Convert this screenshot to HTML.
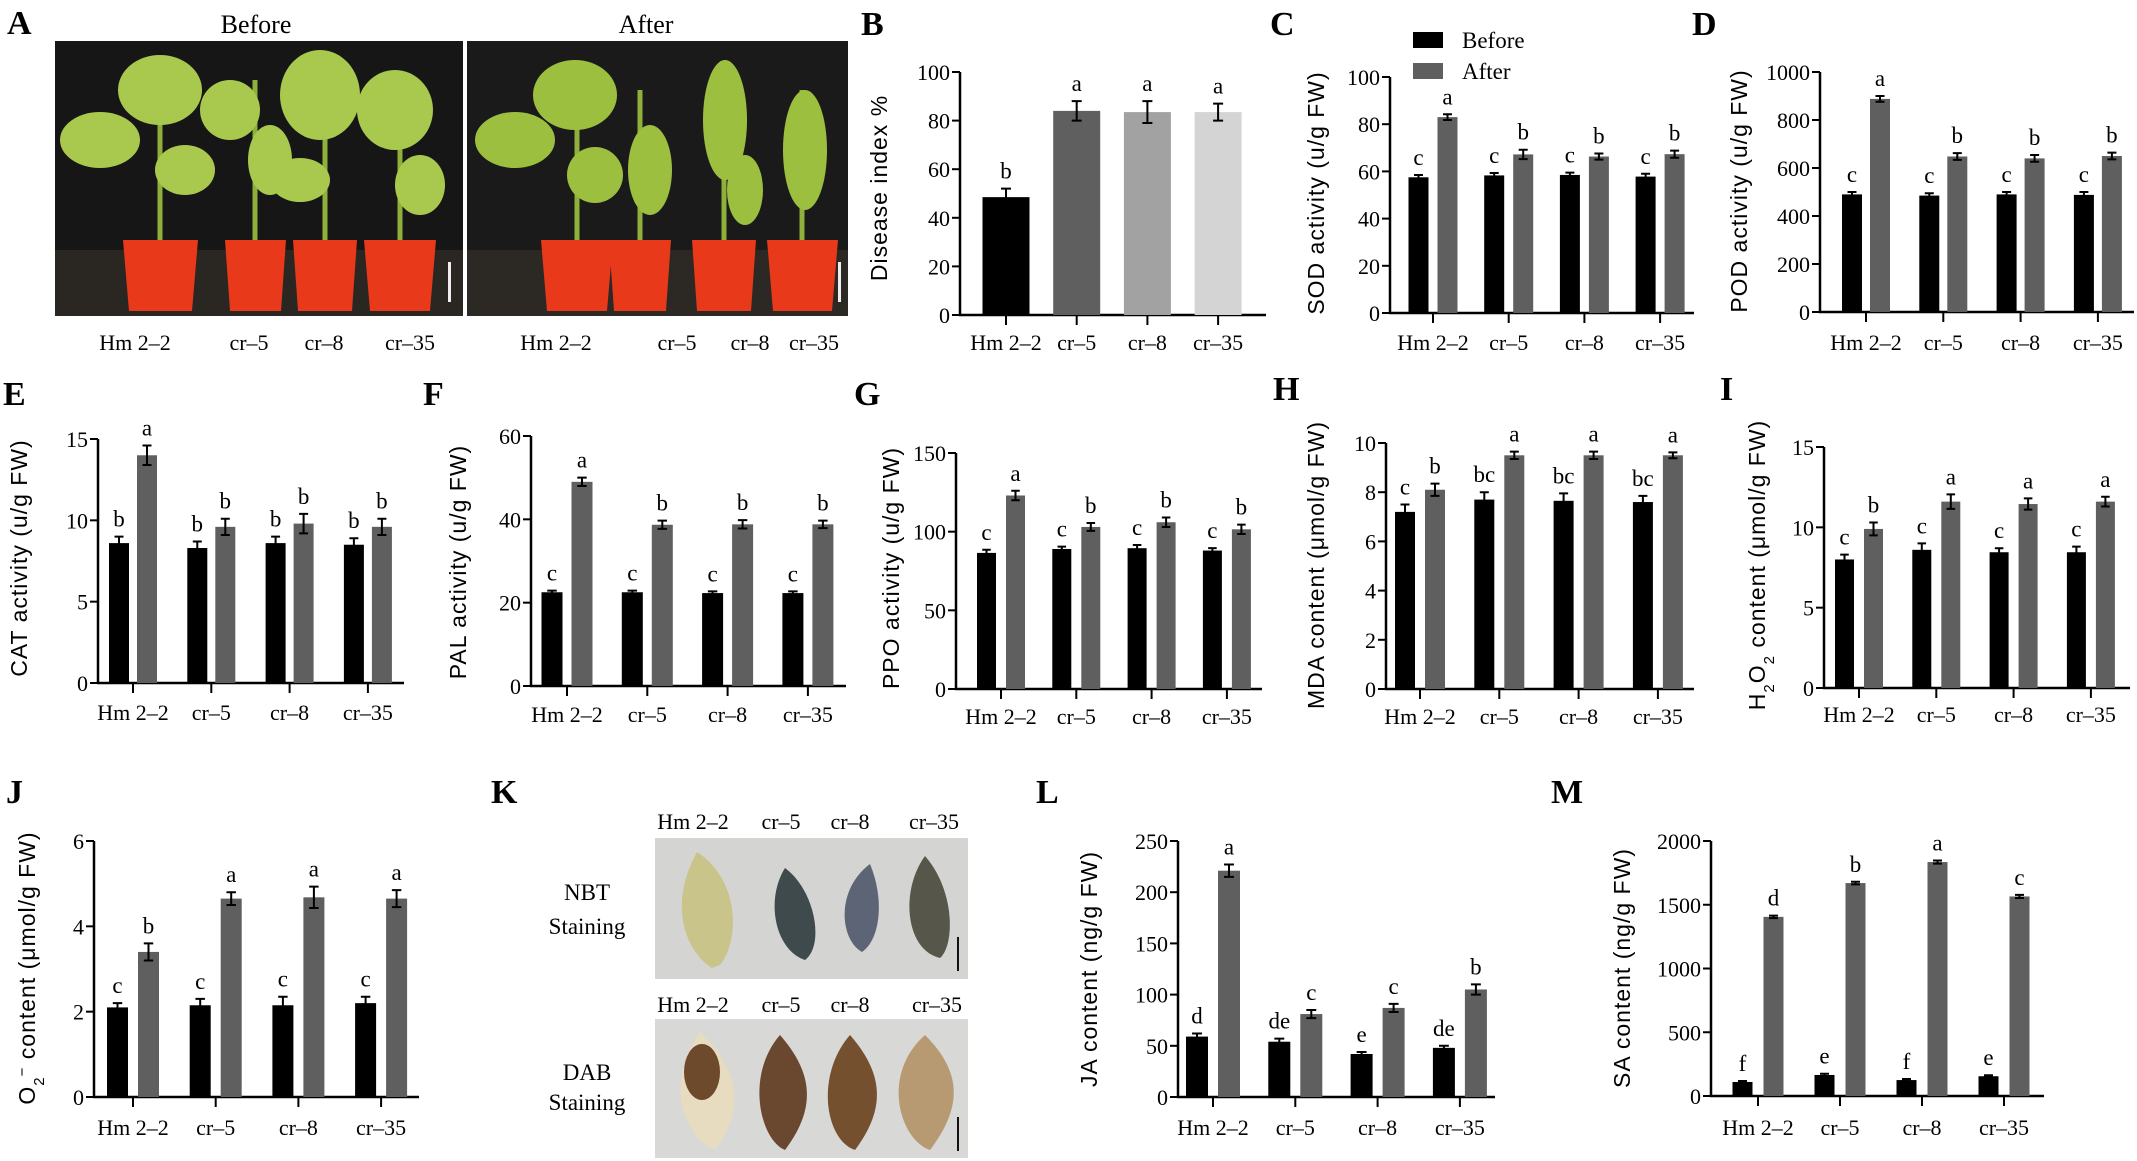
<!DOCTYPE html>
<html><head><meta charset="utf-8"><style>
html,body{margin:0;padding:0;background:#fff;}
svg{display:block;font-family:"Liberation Serif",serif;}
</style></head><body>
<svg id="fig" width="2137" height="1161" viewBox="0 0 2137 1161" xmlns="http://www.w3.org/2000/svg">
<g>
  <rect x="55" y="41" width="408" height="275" fill="#161616"/>
  <rect x="467" y="41" width="381" height="275" fill="#1a1a1a"/>
  <rect x="55" y="250" width="408" height="66" fill="#2a2622"/>
  <rect x="467" y="250" width="381" height="66" fill="#2c2824"/>
  <g stroke="#8fb03a" stroke-width="5" fill="none">
    <path d="M160,240 L160,70"/><path d="M255,240 L255,80"/><path d="M325,240 L325,70"/><path d="M400,240 L400,80"/>
    <path d="M577,240 L577,70"/><path d="M640,240 L640,90"/><path d="M724,240 L724,70"/><path d="M802,240 L802,90"/>
  </g>
  <g fill="#a9c94e">
    <ellipse cx="100" cy="140" rx="40" ry="28"/><ellipse cx="160" cy="90" rx="42" ry="35"/><ellipse cx="185" cy="170" rx="30" ry="25"/>
    <ellipse cx="230" cy="110" rx="30" ry="30"/><ellipse cx="270" cy="160" rx="22" ry="35"/><ellipse cx="320" cy="95" rx="40" ry="45"/>
    <ellipse cx="300" cy="180" rx="30" ry="22"/><ellipse cx="395" cy="110" rx="38" ry="40"/><ellipse cx="420" cy="185" rx="25" ry="30"/>
  </g>
  <g fill="#9dbf3f">
    <ellipse cx="515" cy="140" rx="40" ry="28"/><ellipse cx="575" cy="95" rx="42" ry="35"/><ellipse cx="595" cy="175" rx="28" ry="28"/>
    <ellipse cx="650" cy="170" rx="22" ry="45"/><ellipse cx="725" cy="120" rx="22" ry="60"/><ellipse cx="745" cy="190" rx="18" ry="35"/>
    <ellipse cx="805" cy="150" rx="22" ry="60"/>
  </g>
  <g fill="#e8391b">
    <path d="M123,240 L198,240 L192,311 L129,311 Z"/><path d="M225,240 L286,240 L281,311 L230,311 Z"/>
    <path d="M293,240 L357,240 L352,311 L298,311 Z"/><path d="M364,240 L436,240 L430,311 L370,311 Z"/>
    <path d="M541,240 L613,240 L607,311 L547,311 Z"/><path d="M609,240 L671,240 L666,311 L614,311 Z"/>
    <path d="M692,240 L756,240 L751,311 L697,311 Z"/><path d="M767,240 L838,240 L832,311 L773,311 Z"/>
  </g>
  <rect x="448" y="262" width="3" height="40" fill="#eee"/><rect x="838" y="262" width="3" height="40" fill="#eee"/>
</g>
<g>
  <rect x="655" y="838" width="313" height="141" fill="#d4d4d2"/>
  <path d="M697,852 C740,880 740,940 720,965 L712,968 C690,955 665,910 697,852 Z" fill="#c9c48a"/>
  <path d="M785,868 C815,890 825,945 805,960 C775,950 765,900 785,868 Z" fill="#3f4a4c"/>
  <path d="M870,864 C885,900 880,940 862,952 C840,940 835,890 870,864 Z" fill="#5c6476"/>
  <path d="M925,856 C955,890 955,945 940,958 C905,950 900,890 925,856 Z" fill="#56574a"/>
  <rect x="957" y="937" width="2" height="34" fill="#111"/>
  <rect x="655" y="1019" width="313" height="139" fill="#d8d8d6"/>
  <path d="M700,1032 C740,1070 745,1110 715,1150 C690,1140 660,1090 700,1032 Z" fill="#e8dcc0"/>
  <ellipse cx="702" cy="1072" rx="18" ry="28" fill="#6e4a2c"/>
  <path d="M780,1035 C815,1075 815,1110 785,1150 C760,1140 745,1075 780,1035 Z" fill="#6a4830"/>
  <path d="M850,1035 C885,1075 885,1110 855,1150 C825,1140 815,1075 850,1035 Z" fill="#74502f"/>
  <path d="M925,1035 C965,1075 960,1110 930,1150 C900,1140 880,1075 925,1035 Z" fill="#b89a72"/>
  <rect x="957" y="1117" width="2" height="34" fill="#111"/>
</g>
<g id="charts"></g>
</svg>
<script>
const cats = ["Hm 2–2","cr–5","cr–8","cr–35"];
const diseaseVals = [48.5,84,83.5,83.5];
const diseaseErr = [3.5,4,4.5,3.5];
const diseaseLetters = ["b","a","a","a"];
const sodBefore=[57.5,58.3,58.5,57.8], sodBeforeErr=[1,1,1,1.2], sodAfter=[83,67.2,66.3,67.3], sodAfterErr=[1.2,2,1.3,1.5];
const sodLB=["c","c","c","c"], sodLA=["a","b","b","b"];
const podBefore=[490,485,490,488], podBeforeErr=[10,10,10,12], podAfter=[888,648,640,650], podAfterErr=[12,14,14,14];
const podLB=["c","c","c","c"], podLA=["a","b","b","b"];
const catBefore=[8.6,8.3,8.6,8.5], catBeforeErr=[0.4,0.4,0.4,0.4], catAfter=[14,9.6,9.8,9.6], catAfterErr=[0.6,0.5,0.6,0.5];
const catLB=["b","b","b","b"], catLA=["a","b","b","b"];
const palBefore=[22.5,22.5,22.3,22.3], palBeforeErr=[0.4,0.4,0.4,0.4], palAfter=[49,38.7,38.8,38.8], palAfterErr=[1,1,1,0.9];
const palLB=["c","c","c","c"], palLA=["a","b","b","b"];
const ppoBefore=[86.5,89,89.5,88], ppoBeforeErr=[2,1.5,2,1.5], ppoAfter=[123,103,106,101.5], ppoAfterErr=[3,2.5,3,3];
const ppoLB=["c","c","c","c"], ppoLA=["a","b","b","b"];
const mdaBefore=[7.2,7.7,7.65,7.6], mdaBeforeErr=[0.3,0.3,0.3,0.25], mdaAfter=[8.1,9.5,9.5,9.5], mdaAfterErr=[0.25,0.15,0.15,0.12];
const mdaLB=["c","bc","bc","bc"], mdaLA=["b","a","a","a"];
const h2o2Before=[8,8.6,8.45,8.45], h2o2BeforeErr=[0.3,0.4,0.25,0.35], h2o2After=[9.9,11.6,11.45,11.6], h2o2AfterErr=[0.4,0.45,0.35,0.3];
const h2o2LB=["c","c","c","c"], h2o2LA=["b","a","a","a"];
const o2Before=[2.1,2.15,2.15,2.2], o2BeforeErr=[0.1,0.15,0.2,0.15], o2After=[3.4,4.65,4.68,4.65], o2AfterErr=[0.2,0.15,0.25,0.2];
const o2LB=["c","c","c","c"], o2LA=["b","a","a","a"];
const jaBefore=[59,54,42,48], jaBeforeErr=[3,3,2,2], jaAfter=[221,81,87,105], jaAfterErr=[6,4,4,5];
const jaLB=["d","de","e","de"], jaLA=["a","c","c","b"];
const saBefore=[110,165,125,155], saBeforeErr=[8,10,8,8], saAfter=[1405,1670,1835,1565], saAfterErr=[10,10,12,12];
const saLB=["f","e","f","e"], saLA=["d","b","a","c"];

const NS="http://www.w3.org/2000/svg";
const root=document.getElementById('charts');
function mk(tag,attrs,parent){const e=document.createElementNS(NS,tag);for(const k in attrs)e.setAttribute(k,attrs[k]);(parent||root).appendChild(e);return e;}
function txt(x,y,s,size,anchor,parent,family,weight){const e=mk('text',{x:x,y:y,'font-size':size,'text-anchor':anchor||'middle','font-family':family||'"Liberation Serif",serif','font-weight':weight||'normal',fill:'#000'},parent);e.textContent=s;return e;}

function chart(id,g,series,titleParts){
  const grp=mk('g',{});
  
  
  const ys=v=>g.y0-(v/g.max)*(g.y0-g.yTop);
  const xc=i=>g.c0+i*g.dx;
  const yax=mk('line',{x1:g.ax,y1:g.y0+1,x2:g.ax,y2:g.yTop,stroke:'#000','stroke-width':2.5},grp);
  
  
  const xax=mk('line',{x1:g.ax-1,y1:g.y0,x2:g.right,y2:g.y0,stroke:'#000','stroke-width':2.5},grp);
  
  
  for(let v=0;v<=g.max+1e-9;v+=g.step){
    const y=ys(v);
    mk('line',{x1:g.ax-8,y1:y,x2:g.ax,y2:y,stroke:'#000','stroke-width':2},grp);
    const t=txt(g.ax-10,y+8,String(v),22,'end',grp);
    
    
  }
  cats.forEach((c,i)=>{
    mk('line',{x1:xc(i),y1:g.y0,x2:xc(i),y2:g.y0+10,stroke:'#000','stroke-width':2},grp);
    const t=txt(xc(i),g.labY,c,22,'middle',grp);
    
    
  });
  const n=series.length;
  series.forEach((s,si)=>{
    s.vals.forEach((v,i)=>{
      let x;
      if(n===1) x=xc(i)-g.bw/2; else x= si===0 ? xc(i)-g.gap/2-g.bw : xc(i)+g.gap/2;
      const col=Array.isArray(s.color)?s.color[i]:s.color;
      const r=mk('rect',{x:x,y:ys(v),width:g.bw,height:g.y0-ys(v),fill:col},grp);
      
      
      const cx=x+g.bw/2, top=ys(v+s.err[i]), bot=ys(v-s.err[i]);
      const cap=Math.min(10,g.bw*0.45);
      const eb=mk('path',{d:`M${cx},${top}V${bot}M${cx-cap/2},${top}H${cx+cap/2}M${cx-cap/2},${bot}H${cx+cap/2}`,stroke:'#000','stroke-width':2,fill:'none'},grp);
      
      
      const lt=txt(cx,top-10,s.letters[i],23,'middle',grp);
      
      
    });
  });
  const tt=mk('text',{x:0,y:0,'font-size':23,'text-anchor':'middle','font-family':'"Liberation Sans",sans-serif','letter-spacing':1,transform:`translate(${g.tx},${g.ty}) rotate(-90)`},grp);
  
  
  titleParts.forEach(p=>{const ts=mk('tspan',p.sub?{'baseline-shift':p.sub,'font-size':15}:{},tt);ts.textContent=p.t;});
}
const BLK='#000', GRY='#5f5f5f';
function two(b,be,lb,a,ae,la){return [{name:'before',vals:b,err:be,letters:lb,color:BLK},{name:'after',vals:a,err:ae,letters:la,color:GRY}];}

chart('disease',{ax:960,y0:315,yTop:72,max:100,step:20,right:1266,c0:1006,dx:70.7,bw:47,gap:0,labY:350,tx:887,ty:188},
  [{name:'index',vals:diseaseVals,err:diseaseErr,letters:diseaseLetters,color:['#000','#5f5f5f','#a2a2a2','#d4d4d4']}],[{t:'Disease index %'}]);
chart('sod',{ax:1390,y0:313,yTop:77,max:100,step:20,right:1694,c0:1433,dx:75.7,bw:20,gap:9,labY:350,tx:1324,ty:193},
  two(sodBefore,sodBeforeErr,sodLB,sodAfter,sodAfterErr,sodLA),[{t:'SOD  activity (u/g FW)'}]);
chart('pod',{ax:1820,y0:312,yTop:72,max:1000,step:200,right:2134,c0:1866,dx:77.3,bw:20,gap:8,labY:350,tx:1747,ty:191},
  two(podBefore,podBeforeErr,podLB,podAfter,podAfterErr,podLA),[{t:'POD activity (u/g FW)'}]);
chart('cat',{ax:98,y0:683,yTop:439,max:15,step:5,right:404,c0:133,dx:78.3,bw:20,gap:8,labY:720,tx:27,ty:558},
  two(catBefore,catBeforeErr,catLB,catAfter,catAfterErr,catLA),[{t:'CAT activity (u/g FW)'}]);
chart('pal',{ax:531,y0:686,yTop:436,max:60,step:20,right:846,c0:567,dx:80.3,bw:21,gap:9,labY:722,tx:466,ty:562},
  two(palBefore,palBeforeErr,palLB,palAfter,palAfterErr,palLA),[{t:'PAL activity (u/g FW)'}]);
chart('ppo',{ax:956,y0:689,yTop:453,max:150,step:50,right:1262,c0:1001,dx:75.3,bw:19,gap:10,labY:724,tx:899,ty:568},
  two(ppoBefore,ppoBeforeErr,ppoLB,ppoAfter,ppoAfterErr,ppoLA),[{t:'PPO activity (u/g FW)'}]);
chart('mda',{ax:1386,y0:689,yTop:443,max:10,step:2,right:1694,c0:1420,dx:79.3,bw:20,gap:10,labY:724,tx:1324,ty:565},
  two(mdaBefore,mdaBeforeErr,mdaLB,mdaAfter,mdaAfterErr,mdaLA),[{t:'MDA content (μmol/g FW)'}]);
chart('h2o2',{ax:1824,y0:688,yTop:447,max:15,step:5,right:2130,c0:1859,dx:77.3,bw:19,gap:10,labY:722,tx:1765,ty:565},
  two(h2o2Before,h2o2BeforeErr,h2o2LB,h2o2After,h2o2AfterErr,h2o2LA),[{t:'H'},{t:'2',sub:'sub'},{t:'O'},{t:'2',sub:'sub'},{t:' content (μmol/g FW)'}]);
chart('o2',{ax:94,y0:1097,yTop:841,max:6,step:2,right:419,c0:133,dx:82.7,bw:21,gap:10,labY:1135,tx:35,ty:968},
  two(o2Before,o2BeforeErr,o2LB,o2After,o2AfterErr,o2LA),[{t:'O'},{t:'2',sub:'sub'},{t:'−',sub:'super'},{t:' content (μmol/g FW)'}]);
chart('ja',{ax:1178,y0:1097,yTop:841,max:250,step:50,right:1495,c0:1213,dx:82.3,bw:22,gap:10,labY:1135,tx:1097,ty:969},
  two(jaBefore,jaBeforeErr,jaLB,jaAfter,jaAfterErr,jaLA),[{t:'JA content (ng/g FW)'}]);
chart('sa',{ax:1711,y0:1096,yTop:841,max:2000,step:500,right:2044,c0:1758,dx:82,bw:20,gap:11,labY:1135,tx:1630,ty:968},
  two(saBefore,saBeforeErr,saLB,saAfter,saAfterErr,saLA),[{t:'SA content (ng/g FW)'}]);

const lg=mk('g',{});


const l1=mk('rect',{x:1413,y:32,width:30,height:16,fill:BLK},lg);


const l2=mk('rect',{x:1413,y:63,width:30,height:16,fill:GRY},lg);


const l3=txt(1462,48,'Before',23,'start',lg);


const l4=txt(1462,79,'After',23,'start',lg);



const panelLetters=[['A',7,34],['B',861,35],['C',1270,35],['D',1692,35],['E',3,405],['F',423,405],['G',854,405],['H',1273,400],['I',1720,400],['J',6,803],['K',491,803],['L',1036,803],['M',1551,803]];
panelLetters.forEach(p=>{
  const t=txt(p[1],p[2],p[0],34,'start',root,'"Liberation Serif",serif','bold');
  
  
});
const aTexts=[['Before',256,33,26],['After',646,33,26],
 ['Hm 2–2',135,350,22],['cr–5',249,350,22],['cr–8',324,350,22],['cr–35',410,350,22],
 ['Hm 2–2',556,350,22],['cr–5',677,350,22],['cr–8',750,350,22],['cr–35',814,350,22],
 ['Hm 2–2',693,829,22],['cr–5',781,829,22],['cr–8',850,829,22],['cr–35',934,829,22],
 ['Hm 2–2',693,1012,22],['cr–5',781,1012,22],['cr–8',850,1012,22],['cr–35',937,1012,22],
 ['NBT',587,900,23],['Staining',587,934,23],['DAB',587,1080,23],['Staining',587,1110,23]];
aTexts.forEach(a=>{
  const t=txt(a[1],a[2],a[0],a[3],'middle');
  
  
});
</script>
</body></html>
